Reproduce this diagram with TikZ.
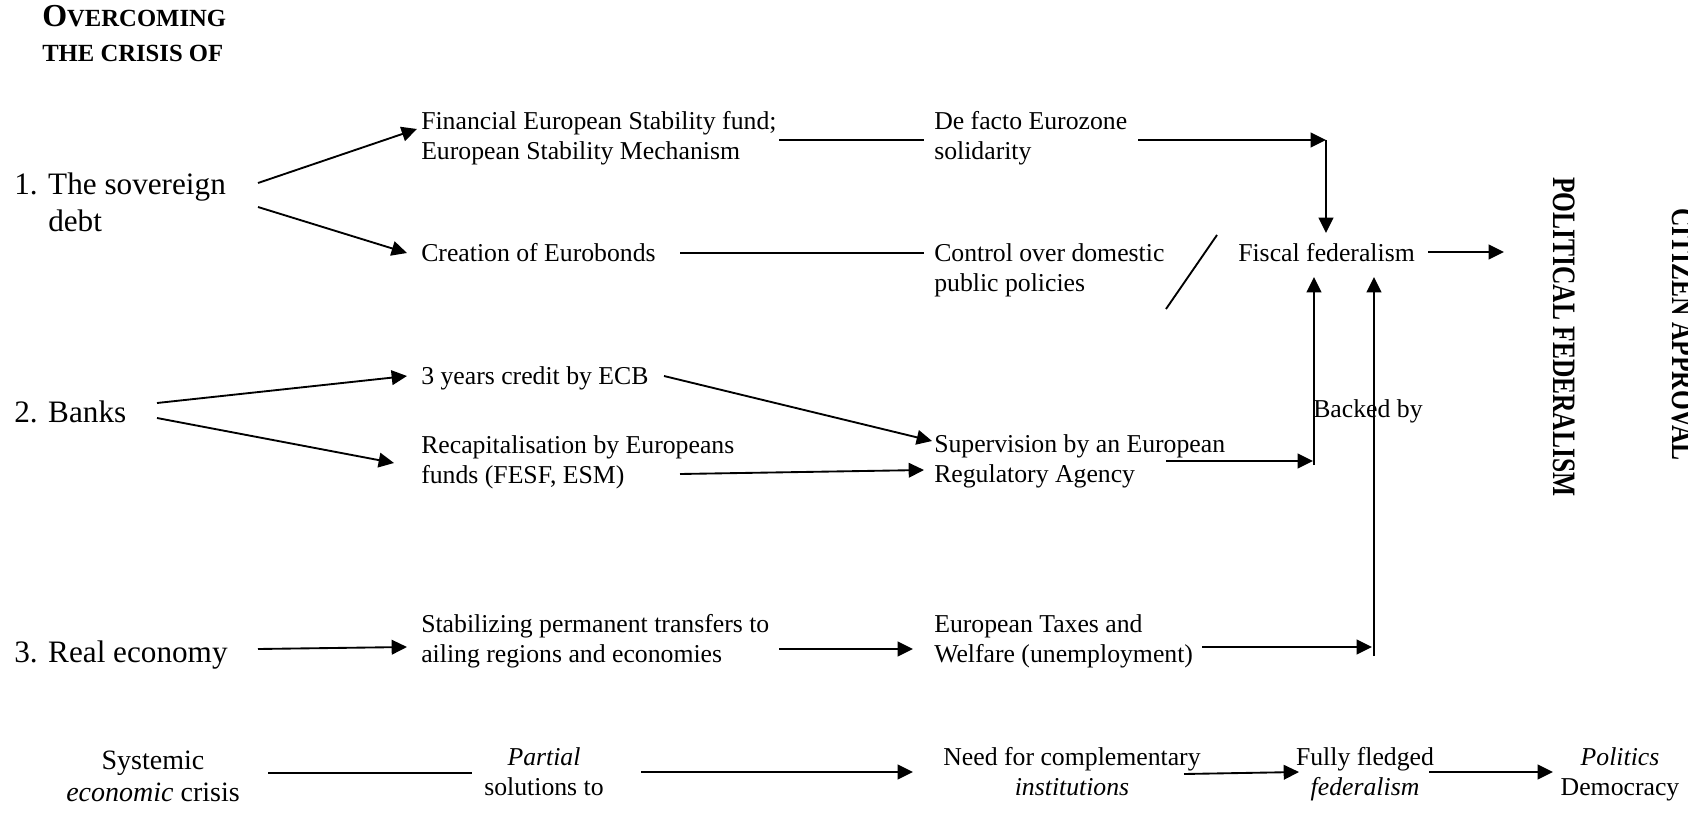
\documentclass[tikz,border=0pt]{standalone}
\usepackage{fontspec}
\setmainfont{Liberation Serif}
\newfontfamily\narrowserif[FakeStretch=0.78]{Liberation Serif}
\usetikzlibrary{arrows.meta,calc}

% two-line labels whose reference point is the baseline of the first line
\newcommand\lefttwo[2]{\begin{tabular}[t]{@{}l@{}}#1\\#2\end{tabular}}
\newcommand\centertwo[2]{\begin{tabular}[t]{@{}c@{}}#1\\#2\end{tabular}}
\newcommand\numbered[3]{\begin{tabular}[t]{@{}l@{}l@{}}\makebox[25.5pt][l]{#1}&#2\\&#3\end{tabular}}

\begin{document}
\begin{tikzpicture}[x=0.75pt,y=-0.75pt,
  line/.style={line width=1.4pt},
  arr/.style={line, -{Triangle[length=11.5pt,width=11pt]}},
  txt/.style={inner sep=0pt, anchor=base west},
  lead/.style={txt, font=\fontsize{23.4}{27.75}\selectfont},
  mid/.style={txt, font=\fontsize{19.3}{22.5}\selectfont},
  foot/.style={inner sep=0pt, anchor=base, font=\fontsize{19.3}{22.5}\selectfont},
  vert/.style={inner sep=0pt, anchor=base west, rotate=-90,
               font=\narrowserif\bfseries\fontsize{24.5}{26}\selectfont},
]
\fill[white] (0,0) rectangle (1688,813);
\useasboundingbox (0,0) rectangle (1688,813);

% heading
\node[txt, font=\bfseries\fontsize{18.5}{26.25}\selectfont] (head) at (42,27)
  {\lefttwo{{\fontsize{24}{26.25}\selectfont O}VERCOMING}{THE CRISIS OF}};

% the three crises
\node[lead] (sov)   at (14,195) {\numbered{1.}{The sovereign}{debt}};
\node[lead] (banks) at (14,422) {\begin{tabular}[t]{@{}l@{}l@{}}\makebox[25.5pt][l]{2.}&Banks\end{tabular}};
\node[lead] (real)  at (14,662) {\begin{tabular}[t]{@{}l@{}l@{}}\makebox[25.5pt][l]{3.}&Real economy\end{tabular}};

% partial solutions
\node[mid] (fin)   at (421,130) {\lefttwo{Financial European Stability fund;}{European Stability Mechanism}};
\node[mid] (euro)  at (421,261) {Creation of Eurobonds};
\node[mid] (ecb)   at (421,384) {3 years credit by ECB};
\node[mid] (recap) at (421,453) {\lefttwo{Recapitalisation by Europeans}{funds (FESF, ESM)}};
\node[mid] (stab)  at (421,632) {\lefttwo{Stabilizing permanent transfers to}{ailing regions and economies}};

% complementary institutions
\node[mid] (defacto) at (934,130) {\lefttwo{De facto Eurozone}{solidarity}};
\node[mid] (control) at (934,261) {\lefttwo{Control over domestic}{public policies}};
\node[mid] (superv)  at (934,452) {\lefttwo{Supervision by an European}{Regulatory Agency}};
\node[mid] (taxes)   at (934,632) {\lefttwo{European Taxes and}{Welfare (unemployment)}};

% federalism
\node[mid] (fiscal) at (1238,261) {Fiscal federalism};
\node[mid] (backed) at (1313,417) {Backed by};
\node[vert] (polfed)  at (1553,177) {POLITICAL FEDERALISM};
\node[vert] (citizen) at (1672,208) {CITIZEN APPROVAL};

% bottom summary row
\node[foot, font=\fontsize{21}{24}\selectfont] (sys) at (153,769) {\centertwo{Systemic}{\textit{economic} crisis}};
\node[foot] (partial)  at (544,765)  {\centertwo{\textit{Partial}}{solutions to}};
\node[foot] (need)     at (1072,765) {\centertwo{Need for complementary}{\textit{institutions}}};
\node[foot] (fully)    at (1365,765) {\centertwo{Fully fledged}{\textit{federalism}}};
\node[foot] (politics) at (1620,765) {\centertwo{\textit{Politics}}{Democracy}};

% sovereign debt branch
\draw[arr]  ($(sov.base west)+(244,-12)$) -- ($(fin.base west)+(-4,-1)$);
\draw[arr]  ($(sov.base west)+(244,12)$) -- ($(euro.base west)+(-14,-8)$);
\draw[line] ($(fin.base west)+(358,10)$) -- ($(defacto.base west)+(-10,10)$);
\coordinate (corner) at ($(fiscal.base west)+(88,-121)$);
\draw[arr]  ($(defacto.base west)+(204,10)$) -- (corner);
\draw[arr]  (corner) -- ($(fiscal.base west)+(88,-28)$);
\draw[line] ($(euro.base west)+(259,-8)$) -- ($(control.base west)+(-10,-8)$);
\draw[line] ($(control.base west)+(283,-26)$) -- ($(control.base west)+(232,48)$);
\draw[arr]  ($(fiscal.base west)+(190,-9)$) -- ($(polfed.base west)+(-49,75)$);

% banks branch
\draw[arr]  ($(banks.base west)+(143,-19)$) -- ($(ecb.base west)+(-14,-8)$);
\draw[arr]  ($(banks.base west)+(143,-4)$) -- ($(recap.base west)+(-27,10)$);
\draw[arr]  ($(ecb.base west)+(243,-8)$) -- ($(superv.base west)+(-2,-11)$);
\draw[arr]  ($(recap.base west)+(259,21)$) -- ($(superv.base west)+(-10,18)$);
\coordinate (leftfoot) at ($(fiscal.base west)+(76,204)$);
\draw[arr]  ($(superv.base west)+(232,9)$) -- ($(leftfoot)+(-1,-4)$);
\draw[arr]  (leftfoot) -- ($(fiscal.base west)+(76,16)$);

% real economy branch
\draw[arr]  ($(real.base west)+(244,-13)$) -- ($(stab.base west)+(-14,15)$);
\draw[arr]  ($(stab.base west)+(358,17)$) -- ($(taxes.base west)+(-21,17)$);
\coordinate (rightfoot) at ($(fiscal.base west)+(136,395)$);
\draw[arr]  ($(taxes.base west)+(268,15)$) -- ($(rightfoot)+(-2,-9)$);
\draw[arr]  (rightfoot) -- ($(fiscal.base west)+(136,16)$);

% bottom summary chain
\draw[line] ($(sys.base)+(115,4)$) -- ($(partial.base)+(-72,8)$);
\draw[arr]  ($(partial.base)+(97,7)$) -- ($(need.base)+(-159,7)$);
\draw[arr]  ($(need.base)+(112,9)$) -- ($(fully.base)+(-66,7)$);
\draw[arr]  ($(fully.base)+(64,7)$) -- ($(politics.base)+(-67,7)$);
\end{tikzpicture}
\end{document}
